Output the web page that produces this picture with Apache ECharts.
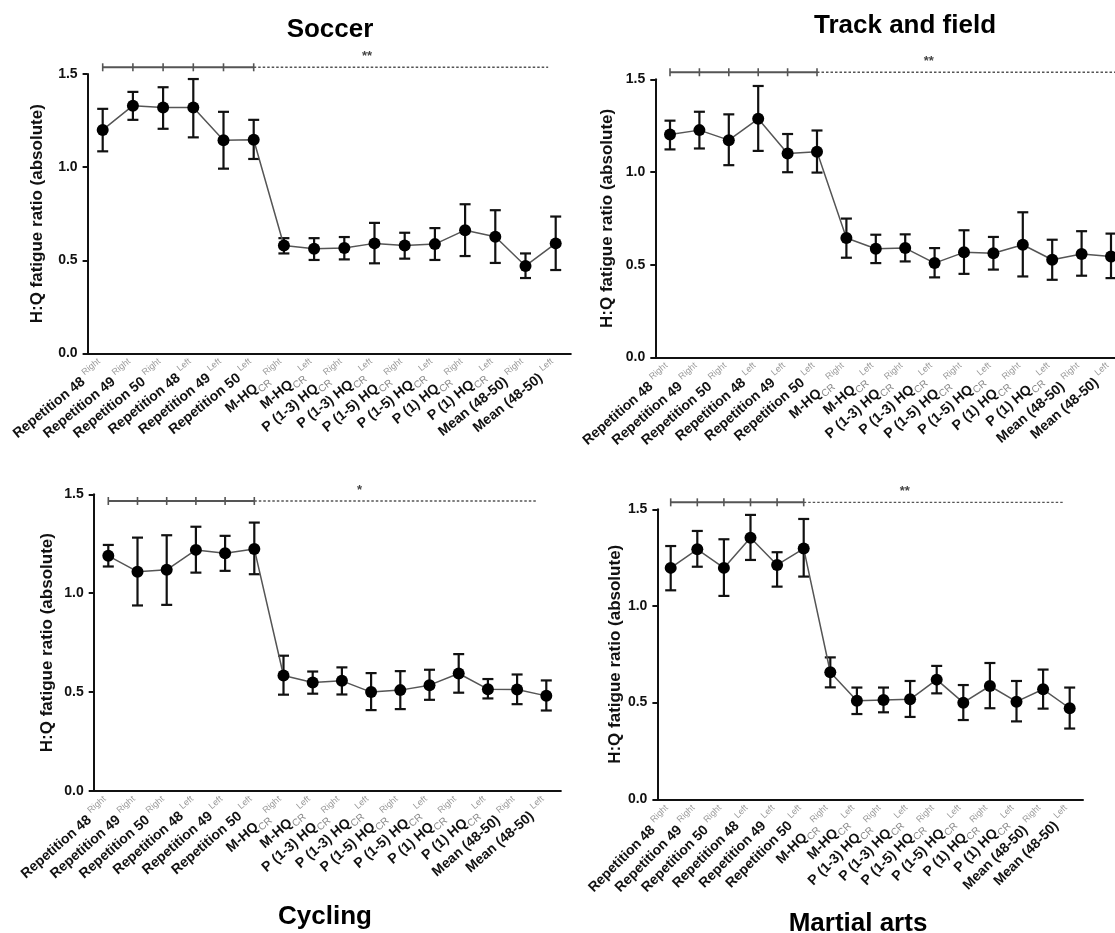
<!DOCTYPE html>
<html><head><meta charset="utf-8">
<script src="https://cdn.jsdelivr.net/npm/echarts@6/dist/echarts.min.js"></script>
<style>html,body{margin:0;padding:0;background:#fff}#c{width:1115px;height:933px}</style>
</head><body><div id="c"></div>
<script>
// ---- data ----
const categories = ['Repetition 48','Repetition 49','Repetition 50','Repetition 48','Repetition 49','Repetition 50',
  'M-HQ','M-HQ','P (1-3) HQ','P (1-3) HQ','P (1-5) HQ','P (1-5) HQ','P (1) HQ','P (1) HQ','Mean (48-50)','Mean (48-50)'];
const subscripts = ['','','','','','','CR','CR','CR','CR','CR','CR','CR','CR','',''];
const sides = ['Right','Right','Right','Left','Left','Left','Right','Left','Right','Left','Right','Left','Right','Left','Right','Left'];
const yTickLabels = ['0.0','0.5','1.0','1.5'];
const titles = ['Soccer','Track and field','Cycling','Martial arts'];
const yName = 'H:Q fatigue ratio (absolute)';

const soccerMean  = [1.20,1.33,1.32,1.32,1.145,1.147,0.58,0.562,0.566,0.591,0.58,0.587,0.662,0.627,0.47,0.591];
const soccerUpper = [1.313,1.404,1.429,1.473,1.297,1.254,0.619,0.619,0.625,0.701,0.648,0.673,0.801,0.769,0.537,0.735];
const soccerLower = [1.085,1.254,1.206,1.160,0.992,1.044,0.537,0.502,0.505,0.484,0.509,0.502,0.523,0.486,0.405,0.448];

const trackMean  = [1.203,1.226,1.172,1.287,1.100,1.109,0.644,0.586,0.590,0.509,0.567,0.562,0.608,0.527,0.558,0.545];
const trackUpper = [1.277,1.325,1.311,1.464,1.205,1.224,0.749,0.662,0.664,0.590,0.686,0.650,0.783,0.635,0.681,0.668];
const trackLower = [1.122,1.127,1.037,1.114,0.999,0.997,0.538,0.509,0.518,0.432,0.451,0.474,0.437,0.419,0.441,0.428];

const cyclingMean  = [1.189,1.109,1.118,1.219,1.202,1.224,0.584,0.549,0.557,0.500,0.510,0.535,0.594,0.515,0.513,0.481];
const cyclingUpper = [1.244,1.281,1.293,1.336,1.290,1.357,0.684,0.604,0.625,0.596,0.606,0.613,0.692,0.566,0.589,0.559];
const cyclingLower = [1.135,0.938,0.941,1.104,1.113,1.096,0.487,0.492,0.488,0.409,0.414,0.461,0.497,0.468,0.439,0.407];

const martialMean  = [1.197,1.293,1.197,1.353,1.212,1.297,0.657,0.510,0.514,0.517,0.619,0.500,0.586,0.505,0.569,0.471];
const martialUpper = [1.310,1.388,1.345,1.471,1.278,1.450,0.734,0.578,0.578,0.612,0.690,0.591,0.705,0.612,0.671,0.578];
const martialLower = [1.081,1.203,1.052,1.238,1.100,1.152,0.579,0.441,0.450,0.426,0.548,0.410,0.471,0.403,0.469,0.366];

// significance brackets (data space)
const sigText   = ['**','**','*','**'];
const sigLevel  = [1.536,1.538,1.466,1.536];
const sigSolidPoints = [0,1,2,3,4,5];
const sigDashEnd = [14.75,15.3,14.7,14.75];
const sigTextX  = [8.75,8.8,8.6,8.8];

const means  = [soccerMean, trackMean, cyclingMean, martialMean];
const uppers = [soccerUpper, trackUpper, cyclingUpper, martialUpper];
const lowers = [soccerLower, trackLower, cyclingLower, martialLower];

// ---- layout ----
const FONT = '"Liberation Sans", Arial, Helvetica, sans-serif';
const layout = [
  {left:87.6, top:74,    width:483.2, height:279.5, title:[330,30],  nameGap:42, rotate:39},
  {left:655.3,top:79.3,  width:470.4, height:278.2, title:[905,26],  nameGap:39, rotate:41},
  {left:93.7, top:494.3, width:467.2, height:296.7, title:[325,917], nameGap:38, rotate:41},
  {left:657.4,top:509.3, width:425.6, height:290,   title:[858,924], nameGap:34, rotate:45}
];

const grids = [], xAxes = [], yAxes = [], series = [], graphics = [];

const labelRich = {
  m:   {fontFamily:FONT, fontWeight:'bold', fontSize:14, color:'#111', lineHeight:20, verticalAlign:'middle'},
  sub: {fontFamily:FONT, fontSize:10, color:'#888', lineHeight:20, verticalAlign:'bottom'},
  sup: {fontFamily:FONT, fontSize:9, color:'#999', lineHeight:20, verticalAlign:'top'}
};

layout.forEach((L, i) => {
  grids.push({left:L.left, top:L.top, width:L.width, height:L.height, containLabel:false, outerBoundsMode:'none'});
  xAxes.push({
    type:'category', gridIndex:i, data:categories, boundaryGap:true,
    axisLine:{onZero:false, lineStyle:{color:'#111', width:2}},
    axisTick:{alignWithLabel:true, length:5, lineStyle:{color:'#111', width:2}},
    axisLabel:{interval:0, rotate:L.rotate, margin:11,
      formatter:(v, k) => '{m|' + categories[k] + (subscripts[k] ? '}{sub|' + subscripts[k] + '}' : ' }') + '{sup|' + sides[k] + '}',
      rich:labelRich},
    splitLine:{show:false}
  });
  xAxes.push({type:'value', gridIndex:i, min:-0.5, max:15.5, show:false});
  yAxes.push({
    type:'value', gridIndex:i, min:0, max:1.5, interval:0.5,
    name:yName, nameLocation:'middle', nameGap:L.nameGap,
    nameTextStyle:{fontFamily:FONT, fontWeight:'bold', fontSize:17, color:'#111'},
    axisLine:{show:true, onZero:false, lineStyle:{color:'#111', width:2}},
    axisTick:{show:true, length:5, lineStyle:{color:'#111', width:2}},
    axisLabel:{formatter:(v) => yTickLabels[Math.round(v/0.5)], fontFamily:FONT, fontWeight:'bold', fontSize:14, color:'#111', margin:10},
    splitLine:{show:false}
  });

  // error bars
  series.push({
    type:'custom', xAxisIndex:2*i+1, yAxisIndex:i, z:2,
    data: means[i].map((m, k) => [k, lowers[i][k], uppers[i][k]]),
    encode:{x:0, y:[1,2]},
    renderItem:(params, api) => {
      const x = api.value(0), lo = api.value(1), hi = api.value(2);
      const a = api.coord([x, hi]), b = api.coord([x, lo]);
      const w = 5.5;
      const st = {stroke:'#111', lineWidth:2.2};
      return {type:'group', children:[
        {type:'line', shape:{x1:a[0], y1:a[1], x2:b[0], y2:b[1]}, style:st},
        {type:'line', shape:{x1:a[0]-w, y1:a[1], x2:a[0]+w, y2:a[1]}, style:st},
        {type:'line', shape:{x1:b[0]-w, y1:b[1], x2:b[0]+w, y2:b[1]}, style:st}
      ]};
    }
  });
  // mean line + markers
  series.push({
    type:'line', xAxisIndex:2*i, yAxisIndex:i, z:4, data:means[i],
    symbol:'circle', symbolSize:12, itemStyle:{color:'#000'},
    lineStyle:{color:'#555', width:1.5}, animation:false
  });
  // significance bracket: solid with ticks
  series.push({
    type:'line', xAxisIndex:2*i+1, yAxisIndex:i, z:3, clip:false,
    data: sigSolidPoints.map(k => [k, sigLevel[i]]),
    symbol:'rect', symbolSize:[1.6, 8], itemStyle:{color:'#555'},
    lineStyle:{color:'#555', width:2}, animation:false
  });
  // dotted continuation
  series.push({
    type:'line', xAxisIndex:2*i+1, yAxisIndex:i, z:3, clip:false,
    data: [[sigSolidPoints[sigSolidPoints.length-1], sigLevel[i]], [sigDashEnd[i], sigLevel[i]]],
    symbol:'none', lineStyle:{color:'#555', width:1.4, type:[2.5,2]}, animation:false
  });
  // asterisks
  series.push({
    type:'custom', xAxisIndex:2*i+1, yAxisIndex:i, z:3, clip:false,
    data: [[sigTextX[i], sigLevel[i]]],
    renderItem:(params, api) => {
      const p = api.coord([api.value(0), api.value(1)]);
      return {type:'text', x:p[0], y:p[1]-4, style:{text:sigText[i], font:'bold 13px ' + FONT, fill:'#444', align:'center', verticalAlign:'bottom'}};
    }
  });

  graphics.push({type:'text', x:L.title[0], y:L.title[1],
    style:{text:titles[i], font:'bold 26px ' + FONT, fill:'#000', align:'center', verticalAlign:'middle', textAlign:'center', textVerticalAlign:'middle'}});
});

const chart = echarts.init(document.getElementById('c'), null, {renderer:'canvas'});
chart.setOption({
  animation:false,
  backgroundColor:'#fff',
  grid:grids, xAxis:xAxes, yAxis:yAxes, series:series, graphic:graphics
});
</script></body></html>
